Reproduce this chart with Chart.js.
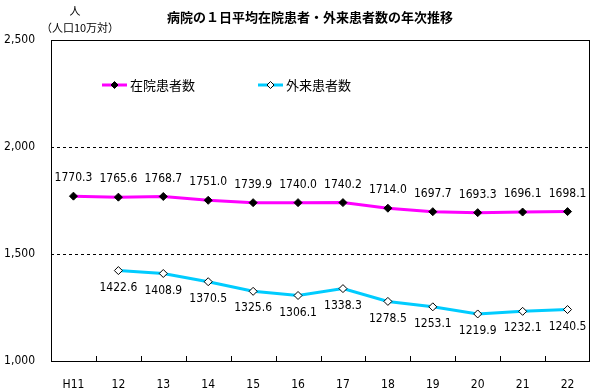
<!DOCTYPE html>
<html>
<head>
<meta charset="utf-8">
<script src="https://cdn.jsdelivr.net/npm/chart.js@4.4.1/dist/chart.umd.min.js"></script>
<style>
  html, body { margin: 0; padding: 0; background: #fff; }
  #wrap { position: relative; width: 602px; height: 392px; }
</style>
</head>
<body>
<div id="wrap"><canvas id="myChart" width="602" height="392"></canvas></div>
<script>
const years = ["H11", "12", "13", "14", "15", "16", "17", "18", "19", "20", "21", "22"];
const inpatients = [1770.3, 1765.6, 1768.7, 1751.0, 1739.9, 1740.0, 1740.2, 1714.0, 1697.7, 1693.3, 1696.1, 1698.1];
const outpatients = [null, 1422.6, 1408.9, 1370.5, 1325.6, 1306.1, 1338.3, 1278.5, 1253.1, 1219.9, 1232.1, 1240.5];
const yTicks = [1000, 1500, 2000, 2500];

const titleText = "病院の１日平均在院患者・外来患者数の年次推移";
const jpFont = '"Noto Sans CJK JP", sans-serif';
const numFont = '"Liberation Sans Narrow", "DejaVu Sans Condensed", sans-serif';

// frame, inner ticks, labels, legend, title
const decor = {
  id: "decor",
  afterDatasetsDraw(chart) {
    const { ctx, chartArea: a, scales } = chart;
    const x = scales.x;
    ctx.save();
    ctx.strokeStyle = "#000";
    ctx.lineWidth = 1;
    ctx.strokeRect(a.left + 0.5, a.top + 0.5, a.right - a.left - 1, a.bottom - a.top);

    // small tick marks between categories
    ctx.beginPath();
    for (let i = 0; i < years.length - 1; i++) {
      const px = Math.round((x.getPixelForValue(i) + x.getPixelForValue(i + 1)) / 2) + 0.5;
      ctx.moveTo(px, a.bottom);
      ctx.lineTo(px, a.bottom - 5);
    }
    ctx.stroke();

    // value labels
    ctx.fillStyle = "#000";
    ctx.font = "12px " + numFont;
    ctx.textAlign = "center";
    ctx.textBaseline = "middle";
    chart.data.datasets.forEach((ds, di) => {
      const meta = chart.getDatasetMeta(di);
      meta.data.forEach((pt, i) => {
        const v = ds.data[i];
        if (v == null) return;
        const dy = di === 0 ? -18 : 17;
        ctx.fillText(v.toFixed(1), pt.x, pt.y + dy);
      });
    });

    // legend inside the plot
    const items = [[0, 102], [1, 258]];
    const ly = 85;
    items.forEach(([di, lx]) => {
      const ds = chart.data.datasets[di];
      ctx.strokeStyle = ds.borderColor;
      ctx.lineWidth = 3;
      ctx.beginPath();
      ctx.moveTo(lx, ly);
      ctx.lineTo(lx + 25, ly);
      ctx.stroke();
      ctx.beginPath();
      const c = lx + 12.5, r = 3.5;
      ctx.moveTo(c, ly - r); ctx.lineTo(c + r, ly); ctx.lineTo(c, ly + r); ctx.lineTo(c - r, ly);
      ctx.closePath();
      ctx.fillStyle = ds.pointBackgroundColor;
      ctx.fill();
      ctx.strokeStyle = "#000";
      ctx.lineWidth = 1;
      ctx.stroke();
      ctx.fillStyle = "#000";
      ctx.font = "13px " + jpFont;
      ctx.textAlign = "left";
      ctx.fillText(ds.label, lx + 28, ly);
    });

    // title and unit
    ctx.textAlign = "center";
    ctx.font = "bold 13px " + jpFont;
    ctx.fillText(titleText, 310, 17);
    ctx.font = "11px " + jpFont;
    ctx.fillText("人", 75, 11);
    ctx.fillText("（人口10万対）", 80, 28);
    ctx.restore();
  }
};

const chart = new Chart(document.getElementById("myChart"), {
  type: "line",
  data: {
    labels: years,
    datasets: [
      {
        label: "在院患者数",
        data: inpatients,
        borderColor: "#FF00FF",
        borderWidth: 3,
        pointStyle: "rectRot",
        pointRadius: 4,
        pointBackgroundColor: "#000",
        pointBorderColor: "#000",
        pointBorderWidth: 1,
        tension: 0
      },
      {
        label: "外来患者数",
        data: outpatients,
        borderColor: "#00CCFF",
        borderWidth: 3,
        pointStyle: "rectRot",
        pointRadius: 4,
        pointBackgroundColor: "#fff",
        pointBorderColor: "#000",
        pointBorderWidth: 1,
        tension: 0
      }
    ]
  },
  options: {
    responsive: false,
    animation: false,
    events: [],
    layout: { padding: { top: 40, right: 12, left: 0, bottom: 0 } },
    plugins: { legend: { display: false }, title: { display: false }, tooltip: { enabled: false } },
    scales: {
      x: {
        offset: true,
        grid: { display: false },
        border: { display: false },
        ticks: { color: "#000", font: { family: numFont, size: 12 }, padding: 9, maxRotation: 0 },
        afterFit(axis) { axis.height = 31; }
      },
      y: {
        min: 1000,
        max: 2500,
        afterBuildTicks(axis) { axis.ticks = yTicks.map(v => ({ value: v })); },
        grid: {
          color: ctx => (ctx.tick && (ctx.tick.value === 1500 || ctx.tick.value === 2000)) ? "#000" : "transparent",
          drawTicks: false
        },
        border: { display: false, dash: [3, 3] },
        ticks: {
          color: "#000",
          font: { family: numFont, size: 12 },
          padding: 16,
          callback: v => v.toLocaleString("en-US")
        },
        afterFit(axis) { axis.width = 51; }
      }
    }
  },
  plugins: [decor]
});
</script>
</body>
</html>
